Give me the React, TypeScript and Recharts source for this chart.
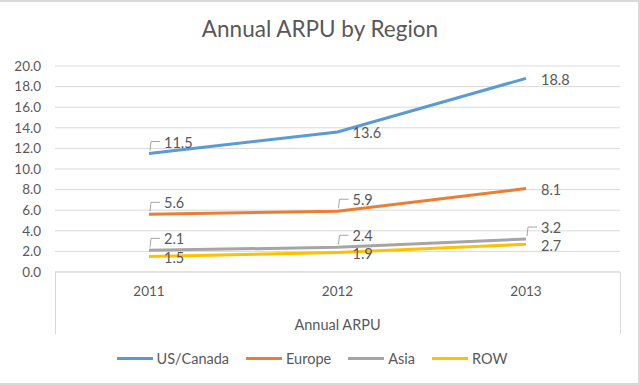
import React from "react";
import { LineChart, Line, XAxis, YAxis, CartesianGrid, Legend, LabelList } from "recharts";

const years = ["2011", "2012", "2013"];
const usCanada = [11.5, 13.6, 18.8];
const europe = [5.6, 5.9, 8.1];
const asia = [2.1, 2.4, 3.2];
const row = [1.5, 1.9, 2.7];
const yTicks = [0, 2, 4, 6, 8, 10, 12, 14, 16, 18, 20];

// label placement per point: "leader" = callout above right, "right" = beside the point
const series = [
  { key: "us", name: "US/Canada", values: usCanada, color: "#5B9BD5", labels: ["leader", "right", "right"] },
  { key: "eu", name: "Europe", values: europe, color: "#ED7D31", labels: ["leader", "leader", "right"] },
  { key: "asia", name: "Asia", values: asia, color: "#A5A5A5", labels: ["leader", "leader", "leader"] },
  { key: "row", name: "ROW", values: row, color: "#FFC000", labels: ["right", "right", "right"] },
];

const data = years.map((year, i) => {
  const d: Record<string, string | number> = { year };
  series.forEach((s) => (d[s.key] = s.values[i]));
  return d;
});

const W = 640;
const H = 385;
const FONT = "Lato, 'Open Sans', sans-serif";
const TEXT = "#595959";
const GRID = "#D9D9D9";
const TICK_FS = 13.5;
const FS = 14.5;
const PLOT_LEFT = 55;
const PLOT_RIGHT = 620;
const PLOT_BOTTOM = 272;

function makeLabel(kinds: string[]) {
  return (props: any) => {
    const { x, y, value, index } = props;
    const kind = kinds[index];
    const txt = Number(value).toFixed(1);
    if (kind === "leader") {
      return (
        <g>
          <path
            d={`M${x + 1},${y - 3} L${x + 2},${y - 12} L${x + 11},${y - 12}`}
            fill="none"
            stroke="#A6A6A6"
            strokeWidth={1}
          />
          <text x={x + 15} y={y - 11} dy="0.35em" fill={TEXT} fontSize={FS} fontFamily={FONT}>
            {txt}
          </text>
        </g>
      );
    }
    return (
      <text x={x + 15} y={y + 1.5} dy="0.35em" fill={TEXT} fontSize={FS} fontFamily={FONT}>
        {txt}
      </text>
    );
  };
}

function LegendContent() {
  return (
    <div
      style={{
        display: "flex",
        justifyContent: "center",
        alignItems: "center",
        height: 20,
        fontFamily: FONT,
        fontSize: FS,
        color: TEXT,
        paddingLeft: 4,
      }}
    >
      {series.map((s) => (
        <div key={s.key} style={{ display: "flex", alignItems: "center", margin: "0 8.5px" }}>
          <span style={{ display: "inline-block", width: 36, height: 3, background: s.color, marginRight: 4 }} />
          <span>{s.name}</span>
        </div>
      ))}
    </div>
  );
}

export default function App() {
  return (
    <div
      style={{
        position: "absolute",
        left: 0,
        top: 0,
        width: W,
        height: H,
        background: "#fff",
        fontFamily: FONT,
      }}
    >
      <div
        style={{
          position: "absolute",
          left: 0,
          width: W,
          textAlign: "center",
          top: 14,
          fontSize: 22.5,
          color: TEXT,
          lineHeight: "30px",
        }}
      >
        Annual ARPU by Region
      </div>
      <LineChart width={W} height={H} data={data} margin={{ top: 66, right: W - PLOT_RIGHT, bottom: 17, left: 0 }}>
        <CartesianGrid horizontal vertical={false} stroke={GRID} />
        <XAxis
          dataKey="year"
          padding={{ left: 94, right: 94 }}
          height={76}
          tickLine={false}
          axisLine={{ stroke: GRID }}
          tickMargin={8}
          interval={0}
          tick={{ fill: TEXT, fontSize: TICK_FS, fontFamily: FONT }}
          label={{ value: "Annual ARPU", position: "insideBottom", offset: 18, fill: TEXT, fontSize: FS, fontFamily: FONT }}
        />
        <YAxis
          domain={[0, 20]}
          ticks={yTicks}
          interval={0}
          width={PLOT_LEFT}
          tickLine={false}
          axisLine={false}
          tickMargin={8}
          tickFormatter={(v) => Number(v).toFixed(1)}
          tick={{ fill: TEXT, fontSize: TICK_FS, fontFamily: FONT }}
        />
        <Legend verticalAlign="bottom" content={<LegendContent />} />
        {series.map((s) => (
          <Line
            key={s.key}
            dataKey={s.key}
            name={s.name}
            stroke={s.color}
            strokeWidth={3}
            dot={false}
            type="linear"
            isAnimationActive={false}
          >
            <LabelList dataKey={s.key} content={makeLabel(s.labels)} />
          </Line>
        ))}
      </LineChart>
      <div
        style={{
          position: "absolute",
          left: PLOT_LEFT,
          top: PLOT_BOTTOM,
          width: PLOT_RIGHT - PLOT_LEFT - 1,
          height: 62,
          borderLeft: `1px solid ${GRID}`,
          borderRight: `1px solid ${GRID}`,
          pointerEvents: "none",
        }}
      />
      <div
        style={{
          position: "absolute",
          left: 0,
          top: 0,
          width: W,
          height: H,
          boxSizing: "border-box",
          borderTop: `2px solid ${GRID}`,
          borderRight: `2px solid ${GRID}`,
          borderBottom: `2px solid ${GRID}`,
          pointerEvents: "none",
        }}
      />
    </div>
  );
}
